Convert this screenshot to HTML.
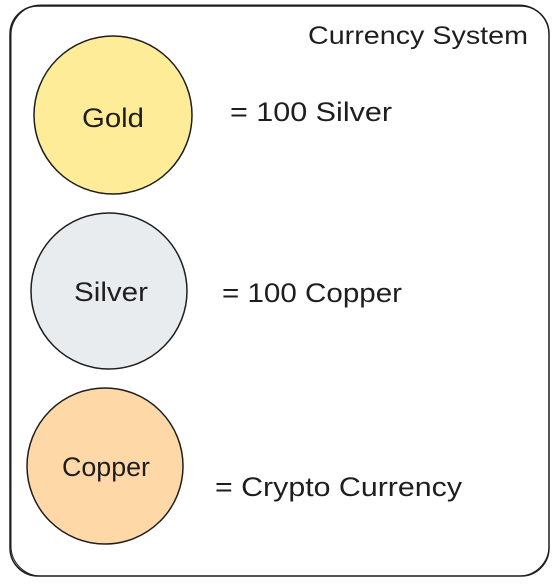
<!DOCTYPE html>
<html><head><style>
body{margin:0;width:556px;height:582px;background:#fff;overflow:hidden}
svg text{font-family:"Liberation Sans",sans-serif;fill:#1e1e1e}
</style></head><body>
<svg width="556" height="582" viewBox="0 0 556 582">
<rect x="10" y="6" width="539" height="570" rx="28" fill="none" stroke="#1e1e1e" stroke-width="1.5"/>
<rect x="11" y="5" width="538" height="571" rx="30" fill="none" stroke="#1e1e1e" stroke-width="1"/>
<text x="308" y="44" font-size="25" textLength="220" lengthAdjust="spacingAndGlyphs">Currency System</text>
<circle cx="113" cy="115" r="79" fill="#ffec99" stroke="#1e1e1e" stroke-width="1.5"/>
<circle cx="109" cy="291" r="78" fill="#e9ecef" stroke="#1e1e1e" stroke-width="1.5"/>
<circle cx="105" cy="466" r="78" fill="#ffd8a8" stroke="#1e1e1e" stroke-width="1.5"/>
<text x="82" y="127" font-size="27" textLength="62" lengthAdjust="spacingAndGlyphs">Gold</text>
<text x="74" y="301" font-size="27" textLength="74" lengthAdjust="spacingAndGlyphs">Silver</text>
<text x="62" y="476" font-size="27" textLength="88" lengthAdjust="spacingAndGlyphs">Copper</text>
<text x="230" y="121" font-size="27" textLength="162" lengthAdjust="spacingAndGlyphs">= 100 Silver</text>
<text x="222" y="302" font-size="27" textLength="180" lengthAdjust="spacingAndGlyphs">= 100 Copper</text>
<text x="215" y="496" font-size="27" textLength="247" lengthAdjust="spacingAndGlyphs">= Crypto Currency</text>
</svg>
</body></html>
